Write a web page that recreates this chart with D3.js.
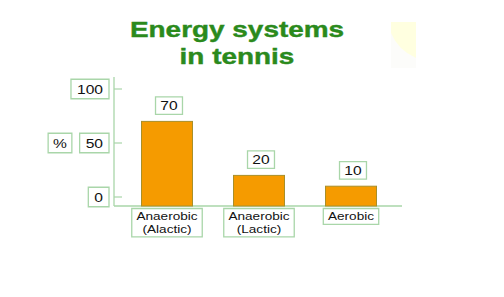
<!DOCTYPE html>
<html>
<head>
<meta charset="utf-8">
<script src="https://cdn.jsdelivr.net/npm/d3@7"></script>
<style>
  html, body { margin: 0; padding: 0; background: #fff; }
  svg { display: block; font-family: "Liberation Sans", Arial, sans-serif; }
</style>
</head>
<body>
<script>
//! DATA
const TITLE = ['Energy systems', 'in tennis'];
const CATEGORIES = ['Anaerobic\n(Alactic)', 'Anaerobic\n(Lactic)', 'Aerobic'];
const VALUES = [70, 20, 10];
const Y_TICKS = [0, 50, 100];
const UNIT = '%';

//! CONSTS
const WIDTH = 504;
const HEIGHT = 297;
const BAR_W = 51;
const BASE_Y = 206;
const STRETCH = 1.2; // slide was stretched sideways
const BOX_STROKE = '#a9d6a9';

const svg = d3.select('body')
  .append('svg')
  .attr('width', WIDTH)
  .attr('height', HEIGHT);

// scales
const y = d3.scaleLinear().domain([0, 100]).range([197, 89]);
const x = d3.scalePoint().domain(CATEGORIES).range([167, 351]);

// boxed text label, placed by one of its edges
const labelBox = (parent, lines, o) => {
  const g = parent.append('g');
  const inner = g.append('g').attr('transform', `scale(${o.sx},1)`);
  const rect = inner.append('rect')
    .attr('fill', '#fff')
    .attr('stroke', BOX_STROKE)
    .attr('stroke-width', 1.3)
    .attr('vector-effect', 'non-scaling-stroke');
  const text = inner.append('text')
    .attr('font-size', o.size)
    .attr('text-anchor', 'middle')
    .attr('fill', '#111');
  lines.forEach((l, i) => text.append('tspan').attr('x', 0).attr('y', i * o.lh).text(l));
  const bb = text.node().getBBox();
  const px = o.px, py = o.py;
  rect.attr('x', bb.x - px).attr('y', bb.y - py)
    .attr('width', bb.width + 2 * px).attr('height', bb.height + 2 * py);
  const left = (bb.x - px) * o.sx, right = (bb.x + bb.width + px) * o.sx;
  const top = bb.y - py, bottom = bb.y + bb.height + py;
  const tx = o.align === 'right' ? o.x - right : o.x - (left + right) / 2;
  let ty;
  if (o.valign === 'bottom') ty = o.y - bottom;
  else if (o.valign === 'top') ty = o.y - top;
  else ty = o.y - (top + bottom) / 2;
  g.attr('transform', `translate(${tx},${ty})`);
  return g;
};

// faint decoration top right
svg.append('rect')
  .attr('x', 391).attr('y', 22).attr('width', 25).attr('height', 46)
  .attr('fill', '#fcfcfa');
svg.append('path')
  .attr('d', 'M391,22 L416,22 L416,58 Q398,50 391,33 Z')
  .attr('fill', '#ffffe0');

// title (top clipped like the source slide)
svg.append('clipPath').attr('id', 'title-clip')
  .append('rect').attr('x', 0).attr('y', 21).attr('width', WIDTH).attr('height', 60);
const title = svg.append('g').attr('clip-path', 'url(#title-clip)');
TITLE.forEach((t, i) => {
  title.append('text')
    .attr('transform', `translate(237,${37 + i * 27}) scale(1.27,1)`)
    .attr('text-anchor', 'middle')
    .attr('font-size', 22)
    .attr('font-weight', 'bold')
    .attr('fill', '#2b8a1c')
    .attr('stroke', '#2b8a1c')
    .attr('stroke-width', 0.4)
    .text(t);
});

// axes lines
svg.append('line')
  .attr('x1', 114).attr('x2', 114).attr('y1', 77).attr('y2', BASE_Y)
  .attr('stroke', BOX_STROKE).attr('stroke-width', 1.3);
svg.append('line')
  .attr('x1', 114).attr('x2', 402).attr('y1', BASE_Y).attr('y2', BASE_Y)
  .attr('stroke', BOX_STROKE).attr('stroke-width', 1.3);

// y ticks
svg.selectAll('.tick-mark')
  .data(Y_TICKS)
  .enter()
  .append('line')
  .attr('class', 'tick-mark')
  .attr('x1', 114).attr('x2', 122)
  .attr('y1', d => y(d)).attr('y2', d => y(d))
  .attr('stroke', BOX_STROKE).attr('stroke-width', 1.2);

Y_TICKS.forEach(t => {
  labelBox(svg, [String(t)], {
    x: 109, y: y(t), align: 'right', valign: 'middle',
    size: 13, lh: 14, sx: STRETCH, px: 5, py: 2.5
  });
});

labelBox(svg, [UNIT], {
  x: 60, y: y(50), align: 'center', valign: 'middle',
  size: 13, lh: 14, sx: STRETCH, px: 4, py: 2.5
});

// bars
svg.selectAll('.bar')
  .data(VALUES)
  .enter()
  .append('rect')
  .attr('class', 'bar')
  .attr('x', (d, i) => x(CATEGORIES[i]) - BAR_W / 2)
  .attr('y', d => y(d))
  .attr('width', BAR_W)
  .attr('height', d => BASE_Y - y(d))
  .attr('fill', '#f59b00')
  .attr('stroke', '#a88f2a')
  .attr('stroke-width', 1);

// value labels
VALUES.forEach((v, i) => {
  labelBox(svg, [String(v)], {
    x: x(CATEGORIES[i]) + 2, y: y(v) - 7, align: 'center', valign: 'bottom',
    size: 13, lh: 14, sx: STRETCH, px: 4, py: 1.5
  });
});

// category labels
CATEGORIES.forEach(c => {
  labelBox(svg, c.split('\n'), {
    x: x(c), y: 208.5, align: 'center', valign: 'top',
    size: 11.5, lh: 12.5, sx: 1.18, px: 4, py: 1.5
  });
});
</script>
</body>
</html>
